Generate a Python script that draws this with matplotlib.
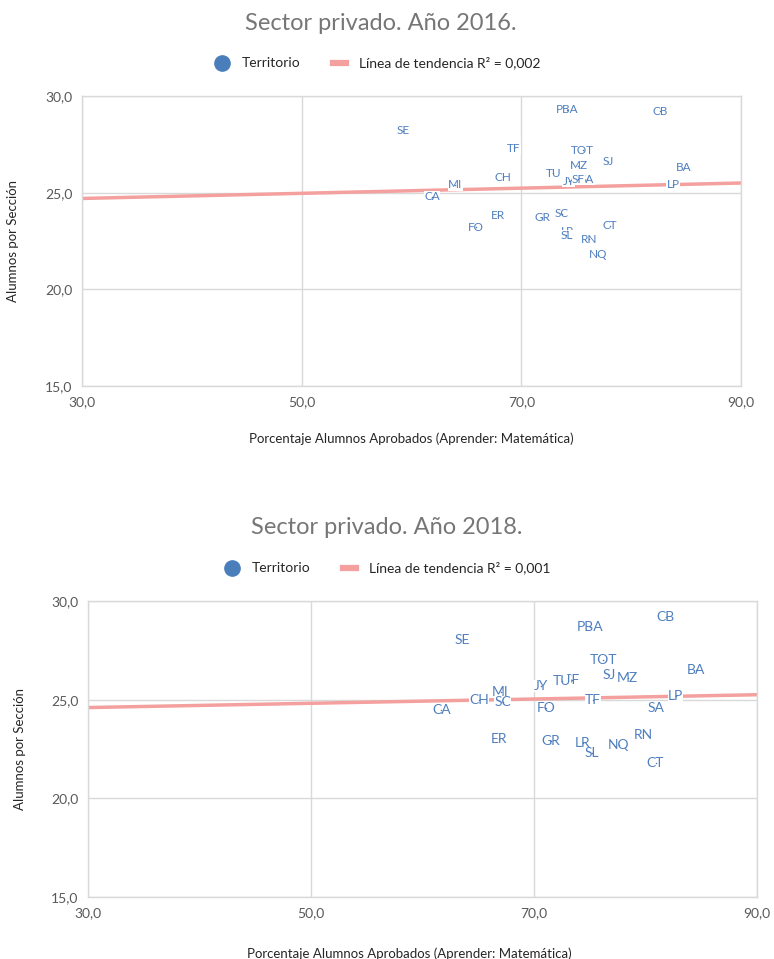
import matplotlib
matplotlib.use("Agg")
import matplotlib.pyplot as plt
from matplotlib.lines import Line2D
from matplotlib.ticker import FuncFormatter

plt.rcParams['font.family'] = ['Lato', 'DejaVu Sans']

# ---------------- data ----------------
labels_2016 = ["SE", "PBA", "CB", "TF", "TOT", "SJ", "MZ", "BA", "TU", "CH", "JY", "SA", "SF",
               "MI", "LP", "CA", "ER", "GR", "SC", "CT", "FO", "LR", "SL", "RN", "NQ"]
x_2016 = [59.2, 74.2, 82.6, 69.3, 75.6, 77.9, 75.2, 84.8, 72.9, 68.3, 74.3, 76.0, 75.2,
          64.0, 83.8, 61.9, 67.9, 71.9, 73.7, 78.1, 65.9, 74.2, 74.1, 76.2, 77.0]
y_2016 = [28.2, 29.3, 29.2, 27.3, 27.2, 26.6, 26.4, 26.3, 26.0, 25.8, 25.6, 25.7, 25.7,
          25.4, 25.4, 24.8, 23.8, 23.7, 23.9, 23.3, 23.2, 23.0, 22.8, 22.6, 21.8]
trend_2016 = [24.7, 25.5]   # trend line value at x = 30 and x = 90
r2_2016 = "0,002"

labels_2018 = ["SE", "PBA", "CB", "TOT", "SJ", "MZ", "BA", "SF", "TU", "JY", "MI", "CH", "SC",
               "CA", "FO", "TF", "LP", "SA", "ER", "GR", "LR", "SL", "NQ", "RN", "CT"]
x_2018 = [63.6, 75.0, 81.8, 76.2, 76.7, 78.4, 84.5, 73.4, 72.5, 70.6, 67.0, 65.1, 67.2,
          61.7, 71.1, 75.3, 82.7, 80.9, 66.9, 71.5, 74.4, 75.2, 77.6, 79.8, 80.9]
y_2018 = [28.0, 28.7, 29.2, 27.0, 26.25, 26.1, 26.5, 26.0, 25.95, 25.7, 25.4, 25.0, 24.9,
          24.5, 24.6, 25.0, 25.2, 24.6, 23.0, 22.9, 22.8, 22.3, 22.7, 23.2, 21.8]
trend_2018 = [24.6, 25.25]
r2_2018 = "0,001"

x_ticks = [30, 50, 70, 90]
y_ticks = [15, 20, 25, 30]

# ---------------- styling ----------------
BLUE = "#4a7ebb"
LABEL_BLUE = "#4f7fbf"
TREND = "#f4a09e"
GRID = "#d9d9d9"
TICKC = "#595959"
TITLEC = "#767676"

fig = plt.figure(figsize=(7.74, 9.59), dpi=100)
W, H = 774.0, 959.0


def px_axes(x0, y0, x1, y1):
    return fig.add_axes([x0 / W, 1 - y1 / H, (x1 - x0) / W, (y1 - y0) / H])


comma = FuncFormatter(lambda v, p: f"{v:.1f}".replace(".", ","))


def draw(ax, xs, ys, labs, trend, lab_size):
    ax.set_xlim(30, 90)
    ax.set_ylim(15, 30)
    ax.set_xticks(x_ticks)
    ax.set_yticks(y_ticks)
    ax.xaxis.set_major_formatter(comma)
    ax.yaxis.set_major_formatter(comma)
    ax.grid(True, color=GRID, linewidth=1.0)
    ax.set_axisbelow(True)
    for s in ax.spines.values():
        s.set_color(GRID)
        s.set_linewidth(1.0)
    ax.tick_params(length=0, labelsize=10, colors=TICKC, pad=7)
    ax.plot([30, 90], trend, color=TREND, linewidth=2.5, zorder=2)
    for x, y, t in zip(xs, ys, labs):
        ax.text(x, y, t, ha="center", va="center", fontsize=lab_size,
                color=LABEL_BLUE, zorder=4,
                bbox=dict(facecolor="white", edgecolor="none", pad=0.1))
    ax.scatter(xs, ys, s=1.2, color=BLUE, zorder=5, linewidths=0)
    ax.set_ylabel("Alumnos por Sección", fontsize=9.5, color="#262626")
    ax.set_xlabel("Porcentaje Alumnos Aprobados (Aprender: Matemática)",
                  fontsize=9.5, color="#262626")


def legend(cx, cy, r2):
    handles = [
        Line2D([], [], marker="o", linestyle="none", markersize=11,
               markerfacecolor=BLUE, markeredgecolor=BLUE),
        Line2D([], [], color=TREND, linewidth=4.5),
    ]
    names = ["Territorio", f"Línea de tendencia R² = {r2}"]
    fig.legend(handles, names, loc="center", bbox_to_anchor=(cx / W, 1 - cy / H),
               ncol=2, frameon=False, fontsize=10, handlelength=1.0,
               columnspacing=2.3, handletextpad=0.9,
               labelcolor="#262626")


# ---- top chart ----
ax1 = px_axes(82, 96, 741, 386)
draw(ax1, x_2016, y_2016, labels_2016, trend_2016, 8.5)
ax1.yaxis.set_label_coords(-0.095, 0.5)
ax1.xaxis.set_label_coords(0.5, -0.16)
fig.text(381 / W, 1 - 24 / H, "Sector privado. Año 2016.", ha="center", va="center",
         fontsize=17, color=TITLEC)
legend(378, 63, r2_2016)

# ---- bottom chart ----
ax2 = px_axes(88, 601, 757, 897)
draw(ax2, x_2018, y_2018, labels_2018, trend_2018, 10)
ax2.yaxis.set_label_coords(-0.092, 0.5)
ax2.xaxis.set_label_coords(0.48, -0.17)
fig.text(387 / W, 1 - 527 / H, "Sector privado. Año 2018.", ha="center", va="center",
         fontsize=17, color=TITLEC)
legend(388, 568, r2_2018)

fig.savefig("out.png", dpi=100, facecolor="white")
